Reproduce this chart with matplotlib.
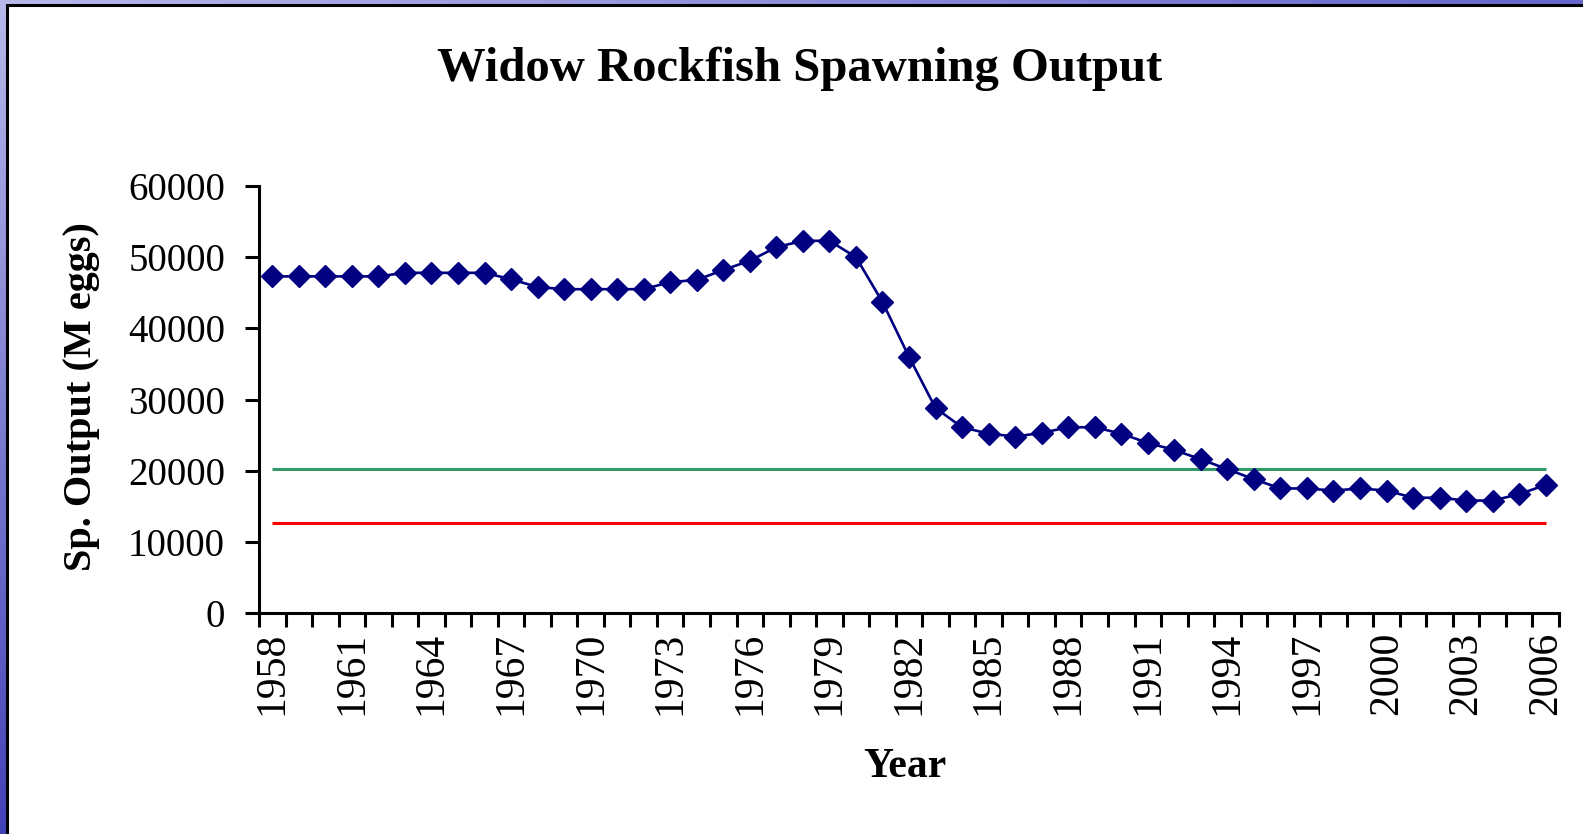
import matplotlib
matplotlib.use("Agg")
import matplotlib.pyplot as plt
import numpy as np
from matplotlib.patches import Rectangle

# ---- data ----
years = list(range(1958, 2007))
spawning_output = [47300, 47300, 47300, 47300, 47300, 47800, 47800, 47800, 47800,
                   46900, 45800, 45500, 45500, 45500, 45500, 46500, 46800, 48200,
                   49500, 51400, 52300, 52300, 50000, 43700, 36000, 28800, 26100,
                   25200, 24800, 25300, 26100, 26100, 25200, 23900, 22900, 21600,
                   20200, 18800, 17500, 17500, 17200, 17500, 17200, 16200, 16200,
                   15800, 15800, 16700, 18000]
target_level = 20200   # green line
limit_level = 12600    # red line
y_ticks = [0, 10000, 20000, 30000, 40000, 50000, 60000]
label_years = years[::3]

plt.rcParams['font.family'] = ['Liberation Serif', 'DejaVu Serif']

W, H = 1583, 834
fig = plt.figure(figsize=(W / 100, H / 100), dpi=100)
fig.patch.set_facecolor('#7474CC')

# slide background gradient (decorative frame)
bg = fig.add_axes([0, 0, 1, 1], zorder=-3)
bg.set_axis_off()
gx = np.linspace(0, 1, 64)[None, :, None]
gy = np.linspace(0, 1, 64)[:, None, None]
tl = np.array([0.72, 0.72, 0.92]); tr = np.array([0.40, 0.40, 0.80])
bl = np.array([0.26, 0.26, 0.72]); br = np.array([0.18, 0.18, 0.62])
grad = (1 - gy) * ((1 - gx) * tl + gx * tr) + gy * ((1 - gx) * bl + gx * br)
bg.imshow(grad, extent=[0, 1, 0, 1], aspect='auto', origin='upper')
bg.set_xlim(0, 1); bg.set_ylim(0, 1)

# white slide panel with black edge
panel = Rectangle((7 / W, -0.1), 1.2, (H - 5.5) / H + 0.1, transform=fig.transFigure,
                  facecolor='white', edgecolor='black', lw=2.2, zorder=-1)
fig.add_artist(panel)

ax = fig.add_axes([259 / W, (H - 613) / H, 1300 / W, 427 / H])
ax.set_facecolor('white')

ax.hlines(target_level, years[0], years[-1], colors='#339966', lw=2.2, zorder=2)
ax.hlines(limit_level, years[0], years[-1], colors='#FF0000', lw=2.2, zorder=2)
ax.plot(years, spawning_output, color='#000080', lw=1.9, marker='D', ms=11.2,
        mfc='#000080', mec='#000080', mew=1, zorder=3, clip_on=False)

ax.set_xlim(years[0] - 0.5, years[-1] + 0.5)
ax.set_ylim(0, 60000)
ax.set_yticks(y_ticks)
ax.set_yticklabels([str(v) for v in y_ticks])
ax.set_xticks(label_years)
ax.set_xticklabels([str(y) for y in label_years], rotation=90)
ax.set_xticks([y - 0.5 for y in years] + [years[-1] + 0.5], minor=True)

ax.tick_params(axis='x', which='major', length=0, pad=13.5, labelsize=30)
ax.tick_params(axis='x', which='minor', length=10, width=2.2, direction='out', color='black')
ax.tick_params(axis='y', which='major', length=10, width=2.2, direction='out',
               pad=14.4, labelsize=28, color='black')

for s in ['top', 'right']:
    ax.spines[s].set_visible(False)
for s in ['left', 'bottom']:
    ax.spines[s].set_linewidth(2.2)
    ax.spines[s].set_color('black')

fig.text(800 / W, (H - 81) / H, 'Widow Rockfish Spawning Output', fontsize=35,
         fontweight='bold', ha='center', va='baseline')
fig.text(905 / W, (H - 777) / H, 'Year', fontsize=30, fontweight='bold',
         ha='center', va='baseline')
fig.text(82 / W, (H - 397) / H, 'Sp. Output (M eggs)', fontsize=29, fontweight='bold',
         rotation=90, ha='center', va='center')

fig.savefig('out.png', dpi=100, facecolor=fig.get_facecolor())
